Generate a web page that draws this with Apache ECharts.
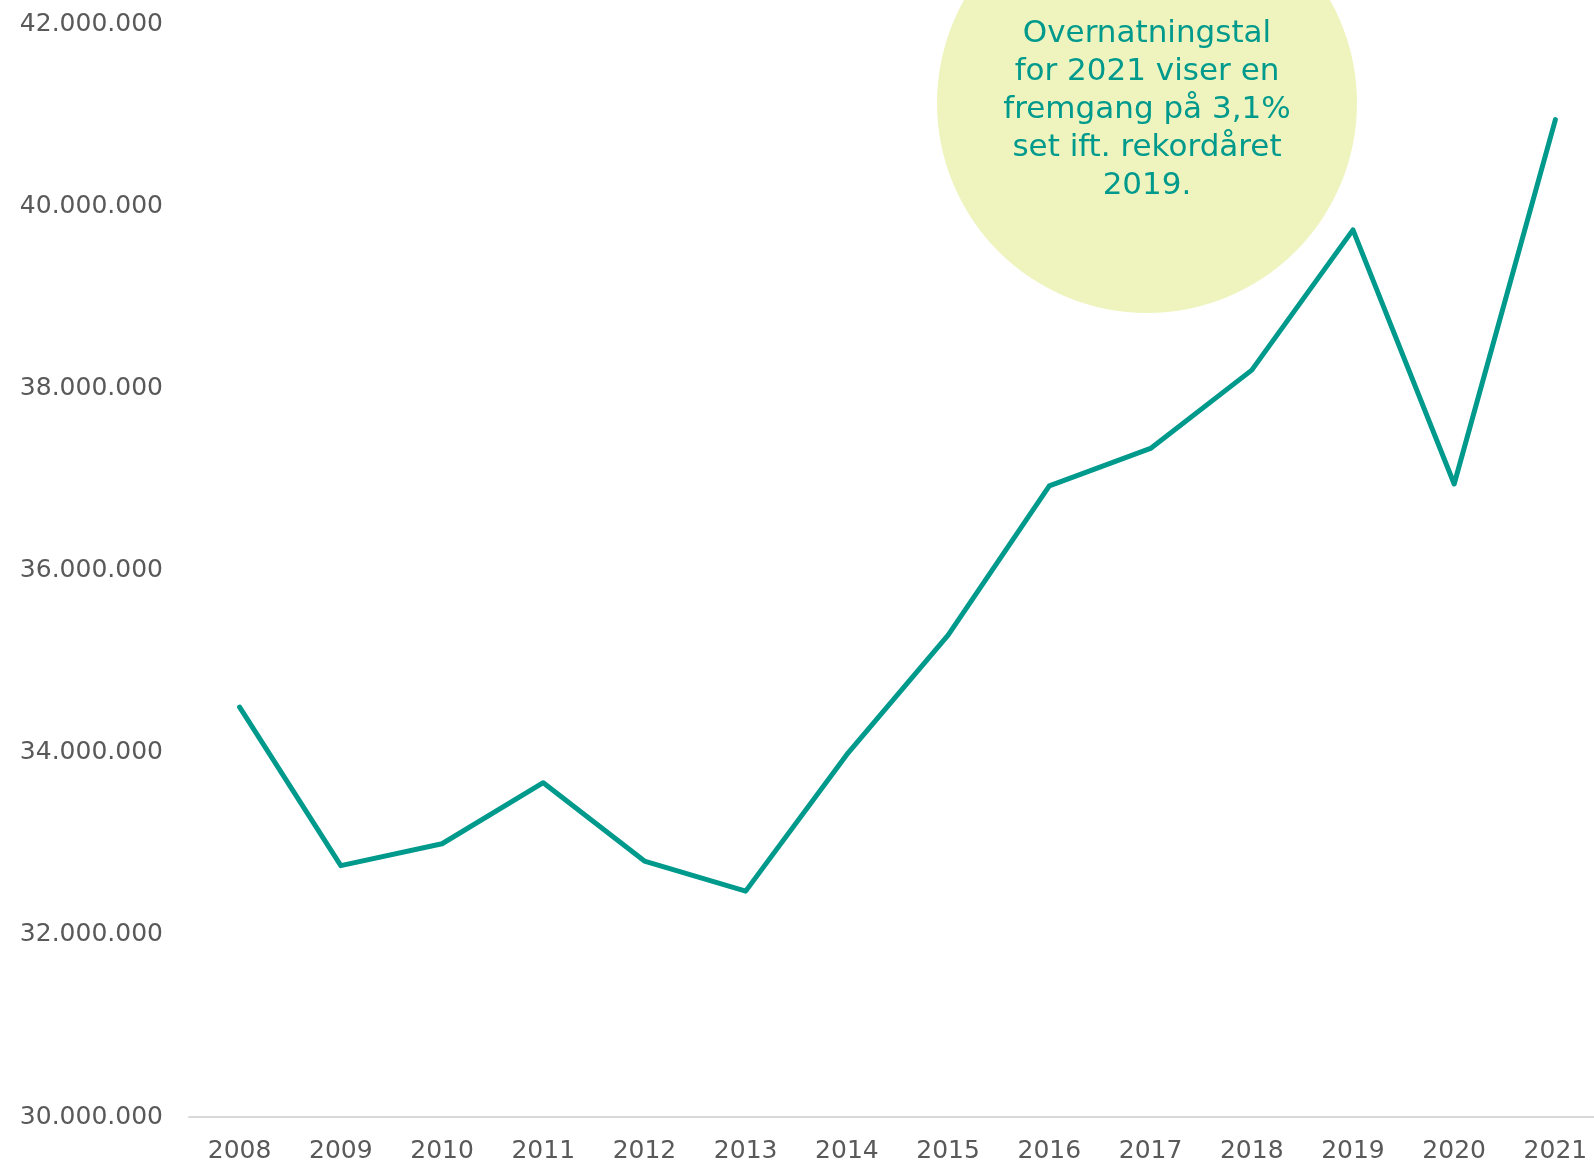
<!DOCTYPE html>
<html>

<head>
    <meta charset=utf-8>
    <title>Overnatninger 2008-2021</title>
    <script src="https://cdn.jsdelivr.net/npm/echarts@6/dist/echarts.min.js"></script>
    <style>
        html, body { margin: 0; padding: 0; background: #fff; }
    </style>
</head>

<body>
<div id="main" style="width: 1594px;height:1164px;"></div>
</body>
<script type="text/javascript">

    // data
    var years = ['2008', '2009', '2010', '2011', '2012', '2013', '2014',
        '2015', '2016', '2017', '2018', '2019', '2020', '2021'];
    var overnatninger = [34500000, 32760000, 33000000, 33670000, 32810000, 32480000, 33980000,
        35290000, 36930000, 37340000, 38200000, 39740000, 36950000, 40950000];
    var noteLines = ['Overnatningstal', 'for 2021 viser en', 'fremgang på 3,1%',
        'set ift. rekordåret', '2019.'];

    var teal = '#009a8d';
    var labelFont = 'DejaVu Sans';

    function fmt(v) {
        return String(v).replace(/\B(?=(\d{3})+(?!\d))/g, '.');
    }

    var myChart = echarts.init(document.getElementById('main'));

    var option = {
        animation: false,
        backgroundColor: '#ffffff',
        grid: {
            left: 189,
            right: -12,
            top: 24,
            bottom: 47,
            containLabel: false,
            outerBoundsMode: 'none'
        },
        xAxis: {
            type: 'category',
            data: years,
            boundaryGap: true,
            axisLine: { lineStyle: { color: '#d9d9d9', width: 2 } },
            axisTick: { show: false },
            axisLabel: {
                color: '#595959',
                fontFamily: labelFont,
                fontSize: 25,
                margin: 22
            }
        },
        yAxis: {
            type: 'value',
            min: 30000000,
            max: 42000000,
            interval: 2000000,
            axisLine: { show: false },
            axisTick: { show: false },
            splitLine: { show: false },
            axisLabel: {
                color: '#595959',
                fontFamily: labelFont,
                fontSize: 25,
                margin: 26,
                formatter: fmt
            }
        },
        // grøn boble med kommentar
        graphic: [
            {
                type: 'circle',
                z: 0,
                shape: { cx: 1147, cy: 103, r: 210 },
                style: { fill: '#eff4bf' }
            },
            {
                type: 'text',
                z: 1,
                x: 1147,
                y: 15,
                style: {
                    text: noteLines.join('\n'),
                    fill: teal,
                    font: '31px "DejaVu Sans"',
                    lineHeight: 38,
                    align: 'center',
                    verticalAlign: 'top'
                }
            }
        ],
        series: [{
            type: 'line',
            data: overnatninger,
            showSymbol: false,
            symbol: 'none',
            z: 5,
            lineStyle: { color: teal, width: 5, cap: 'round', join: 'round' }
        }]
    };

    myChart.setOption(option);

</script>
</html>
